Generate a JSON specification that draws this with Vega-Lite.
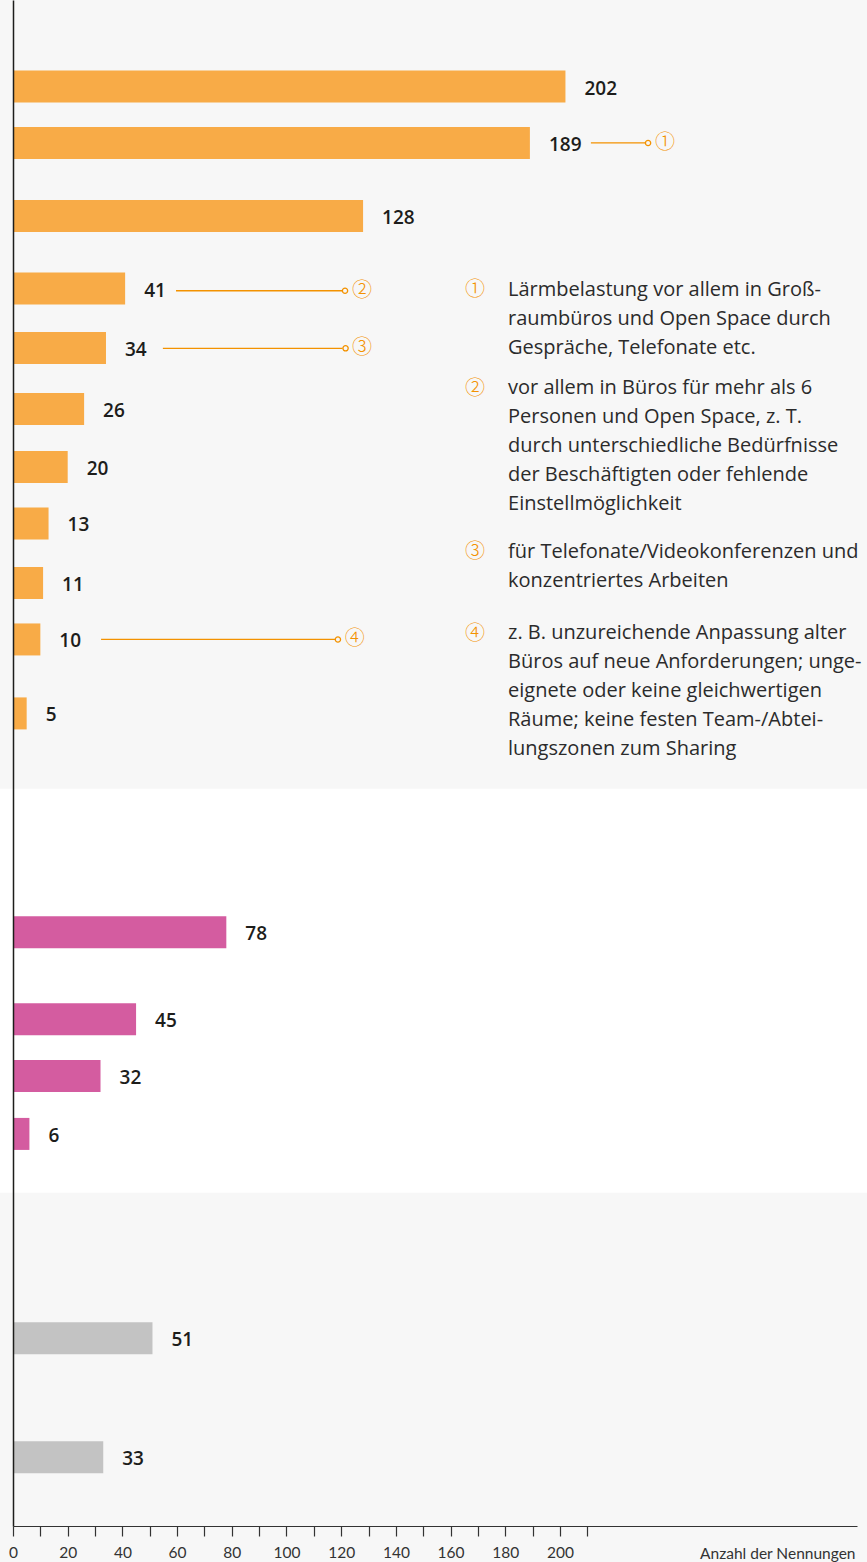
{
  "$schema": "https://vega.github.io/schema/vega-lite/v6.json",
  "width": 844,
  "height": 1526,
  "autosize": {"type": "none"},
  "padding": {"left": 13, "top": 0, "right": 10, "bottom": 36},
  "background": "#f7f7f7",
  "config": {
    "view": {"stroke": null},
    "font": "Lato"
  },
  "datasets": {
    "bands": [{"start": 54.4, "end": 82.25}],
    "bars": [
      {"group": "orange", "value": 202, "slot": 5.97},
      {"group": "orange", "value": 189, "slot": 9.86},
      {"group": "orange", "value": 128, "slot": 14.9},
      {"group": "orange", "value": 41, "slot": 19.9},
      {"group": "orange", "value": 34, "slot": 24.0},
      {"group": "orange", "value": 26, "slot": 28.2},
      {"group": "orange", "value": 20, "slot": 32.2},
      {"group": "orange", "value": 13, "slot": 36.1},
      {"group": "orange", "value": 11, "slot": 40.2},
      {"group": "orange", "value": 10, "slot": 44.1},
      {"group": "orange", "value": 5, "slot": 49.2},
      {"group": "pink", "value": 78, "slot": 64.3},
      {"group": "pink", "value": 45, "slot": 70.3},
      {"group": "pink", "value": 32, "slot": 74.2},
      {"group": "pink", "value": 6, "slot": 78.2},
      {"group": "gray", "value": 51, "slot": 92.3},
      {"group": "gray", "value": 33, "slot": 100.5}
    ],
    "leaders": [
      {"num": "①", "slot": 9.86, "from": 211.3, "to": 231.2, "dot": 232.2, "mark": 238.4},
      {"num": "②", "slot": 20.05, "from": 59.6, "to": 120.3, "dot": 121.4, "mark": 127.6},
      {"num": "③", "slot": 24.02, "from": 54.8, "to": 120.5, "dot": 121.6, "mark": 127.6},
      {"num": "④", "slot": 44.1, "from": 32.2, "to": 118.0, "dot": 118.8, "mark": 125.0}
    ],
    "notes": [
      {"num": "①", "slot": 19.0, "lines": ["Lärmbelastung vor allem in Groß-", "raumbüros und Open Space durch", "Gespräche, Telefonate etc."]},
      {"num": "②", "slot": 25.8, "lines": ["vor allem in Büros für mehr als 6", "Personen und Open Space, z. T.", "durch unterschiedliche Bedürfnisse", "der Beschäftigten oder fehlende", "Einstellmöglichkeit"]},
      {"num": "③", "slot": 37.1, "lines": ["für Telefonate/Videokonferenzen und", "konzentriertes Arbeiten"]},
      {"num": "④", "slot": 42.7, "lines": ["z. B. unzureichende Anpassung alter", "Büros auf neue Anforderungen; unge-", "eignete oder keine gleichwertigen", "Räume; keine festen Team-/Abtei-", "lungszonen zum Sharing"]}
    ]
  },
  "layer": [
    {
      "data": {"name": "bands"},
      "mark": {"type": "rect", "fill": "#ffffff"},
      "encoding": {
        "x": {"datum": -5, "type": "quantitative"},
        "x2": {"datum": 320},
        "y": {"field": "start", "type": "quantitative"},
        "y2": {"field": "end"}
      }
    },
    {
      "data": {"name": "bars"},
      "mark": {"type": "bar", "orient": "horizontal", "size": 32},
      "encoding": {
        "x": {
          "field": "value",
          "type": "quantitative",
          "scale": {"domain": [0, 308.6], "nice": false, "zero": true, "padding": 0},
          "axis": {
            "values": [0, 10, 20, 30, 40, 50, 60, 70, 80, 90, 100, 110, 120, 130, 140, 150, 160, 170, 180, 190, 200, 210],
            "labelExpr": "datum.value % 20 === 0 && datum.value <= 200 ? datum.label : ''",
            "grid": false,
            "zindex": 1,
            "domainColor": "#333333",
            "domainWidth": 1.2,
            "tickColor": "#333333",
            "tickWidth": 1.2,
            "tickSize": 10,
            "labelFontSize": 15.5,
            "labelColor": "#333333",
            "labelPadding": 9,
            "labelFlush": false,
            "labelOverlap": false,
            "title": "Anzahl der Nennungen",
            "titleAnchor": "end",
            "titleAlign": "right",
            "titleBaseline": "middle",
            "titleY": 27,
            "titleX": 842,
            "titleFontSize": 15.5,
            "titleFontWeight": "normal",
            "titleColor": "#333333"
          }
        },
        "y": {
          "field": "slot",
          "type": "quantitative",
          "scale": {"domain": [0, 105.24], "reverse": true, "nice": false, "zero": false, "padding": 0},
          "axis": {"domain": true, "zindex": 1, "domainColor": "#1d1d1b", "domainWidth": 1.5, "ticks": false, "labels": false, "grid": false, "title": null}
        },
        "color": {
          "field": "group",
          "type": "nominal",
          "scale": {"domain": ["orange", "pink", "gray"], "range": ["#f8ab47", "#d45ca0", "#c3c3c3"]},
          "legend": null
        }
      }
    },
    {
      "data": {"name": "bars"},
      "mark": {"type": "text", "align": "left", "baseline": "middle", "dx": 19, "dy": 2, "fontSize": 19, "fontWeight": 600, "font": "Open Sans", "color": "#1d1d1b"},
      "encoding": {
        "x": {"field": "value", "type": "quantitative"},
        "y": {"field": "slot", "type": "quantitative"},
        "text": {"field": "value", "type": "quantitative"}
      }
    },
    {
      "data": {"name": "leaders"},
      "mark": {"type": "rule", "color": "#f39200", "strokeWidth": 1.3},
      "encoding": {
        "x": {"field": "from", "type": "quantitative"},
        "x2": {"field": "to"},
        "y": {"field": "slot", "type": "quantitative"}
      }
    },
    {
      "data": {"name": "leaders"},
      "mark": {"type": "point", "shape": "circle", "size": 28, "filled": true, "fill": "#f7f7f7", "stroke": "#f39200", "strokeWidth": 1.3, "opacity": 1},
      "encoding": {
        "x": {"field": "dot", "type": "quantitative"},
        "y": {"field": "slot", "type": "quantitative"}
      }
    },
    {
      "data": {"name": "leaders"},
      "mark": {"type": "text", "align": "center", "baseline": "middle", "fontSize": 20, "font": "Noto Sans CJK SC", "fontWeight": 300, "color": "#f39200"},
      "encoding": {
        "x": {"field": "mark", "type": "quantitative"},
        "y": {"field": "slot", "type": "quantitative"},
        "text": {"field": "num"}
      }
    },
    {
      "data": {"name": "notes"},
      "mark": {"type": "text", "align": "center", "baseline": "middle", "dy": 14.5, "fontSize": 20, "font": "Noto Sans CJK SC", "fontWeight": 300, "color": "#f39200"},
      "encoding": {
        "x": {"datum": 168.9, "type": "quantitative"},
        "y": {"field": "slot", "type": "quantitative"},
        "text": {"field": "num"}
      }
    },
    {
      "data": {"name": "notes"},
      "mark": {"type": "text", "align": "left", "baseline": "line-top", "lineHeight": 29, "fontSize": 20, "font": "Open Sans", "color": "#2b2b2b"},
      "encoding": {
        "x": {"datum": 181.0, "type": "quantitative"},
        "y": {"field": "slot", "type": "quantitative"},
        "text": {"field": "lines"}
      }
    }
  ]
}
